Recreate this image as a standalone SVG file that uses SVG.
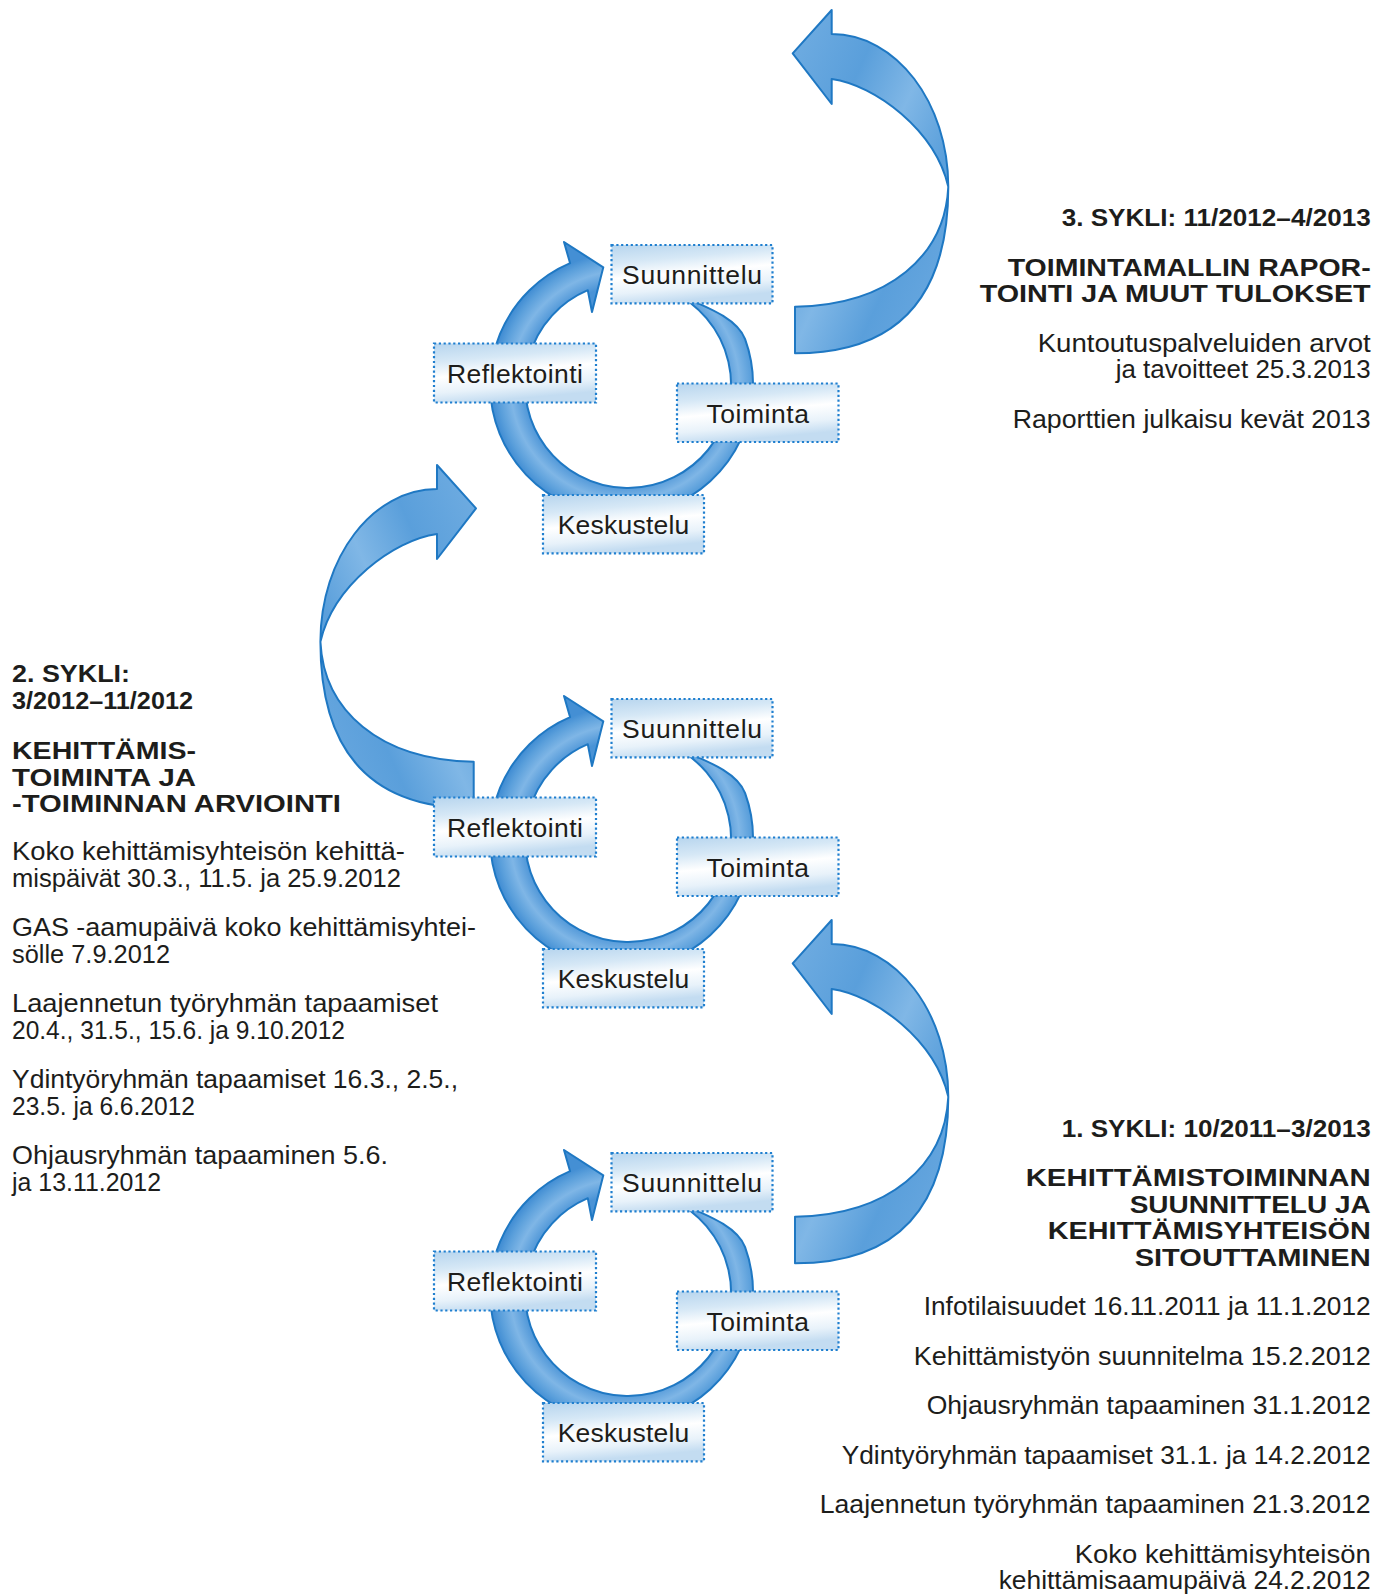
<svg xmlns="http://www.w3.org/2000/svg" width="1391" height="1595" viewBox="0 0 1391 1595">
  <style>
    text { font-family: "Liberation Sans", Arial, Helvetica, sans-serif; fill: #1d1d1b; }
    .h { font-weight: bold; font-size: 24px; }
    .t { font-size: 26.5px; }
    .r { text-anchor: end; }
    .lbl { font-size: 26.5px; text-anchor: middle; }
    .box { fill: url(#boxGrad); stroke: #1f7fcf; stroke-width: 2.2; stroke-dasharray: 2.2 2.6; }
    .ring { fill: url(#ringGrad); stroke: #1f78c3; stroke-width: 2; stroke-linejoin: round; }
    .big { fill: url(#bigGrad); stroke: #1f78c3; stroke-width: 2; stroke-linejoin: round; }
  </style>
  <defs>
    <linearGradient id="boxGrad" x1="0" y1="0" x2="0.25" y2="1">
      <stop offset="0" stop-color="#b7d5ee"/>
      <stop offset="0.3" stop-color="#d6e8f6"/>
      <stop offset="0.55" stop-color="#ffffff"/>
      <stop offset="0.8" stop-color="#e8f2fa"/>
      <stop offset="1" stop-color="#c3dcf1"/>
    </linearGradient>
    <radialGradient id="ringGrad" gradientUnits="userSpaceOnUse" cx="625" cy="385" r="133">
      <stop offset="0.74" stop-color="#4a93d6"/>
      <stop offset="0.86" stop-color="#7fb6e6"/>
      <stop offset="0.95" stop-color="#5a9fdb"/>
      <stop offset="1" stop-color="#448fd4"/>
    </radialGradient>
    <linearGradient id="bigGrad" x1="0" y1="0" x2="1" y2="1">
      <stop offset="0" stop-color="#72aee2"/>
      <stop offset="0.3" stop-color="#5a9fdb"/>
      <stop offset="0.5" stop-color="#80b7e6"/>
      <stop offset="0.7" stop-color="#5a9fdb"/>
      <stop offset="1" stop-color="#6eabe1"/>
    </linearGradient>
    <path id="bigArrow" d="M 831.7 34 C 896.1 34 948.3 102.4 948.3 186.7 C 948.3 310 885 353.3 795 353.3 L 795 306.7 C 890 305 945 255 948.3 186.7 C 935 130 875 85 831.7 79 L 831.7 104 L 792.7 53.3 L 831.7 10 Z"/>
    <path id="ringArrow" d="M 671.5 291.6 C 698.7 304.4 736.5 315.7 745.1 339.2 A 131.5 131.5 0 1 1 570.1 263.2 L 564 242 L 603.3 267.3 L 592 312 L 587.8 290.2 A 103 103 0 1 0 671.5 291.6 Z"/>
  </defs>

  <g id="connectors">
    <use href="#bigArrow" class="big"/>
    <use href="#bigArrow" class="big" transform="matrix(-1 0 0 1 1268.7 455)"/>
    <use href="#bigArrow" class="big" transform="translate(0 910)"/>
    <use href="#ringArrow" class="ring"/>
    <use href="#ringArrow" class="ring" transform="translate(0 454)"/>
    <use href="#ringArrow" class="ring" transform="translate(0 908)"/>
  </g>

  <g id="cycle3-nodes">
    <g id="c3-suunnittelu"><rect class="box" x="611.5" y="245" width="161" height="58.3"/><text class="lbl" x="692" y="284.3" textLength="140">Suunnittelu</text></g>
    <g id="c3-reflektointi"><rect class="box" x="434" y="343.5" width="162" height="59"/><text class="lbl" x="515" y="383.3" textLength="136">Reflektointi</text></g>
    <g id="c3-toiminta"><rect class="box" x="677" y="383.5" width="161.5" height="58.5"/><text class="lbl" x="757.7" y="422.7" textLength="102.6">Toiminta</text></g>
    <g id="c3-keskustelu"><rect class="box" x="543" y="495" width="161" height="58.3"/><text class="lbl" x="623.5" y="534" textLength="131.6">Keskustelu</text></g>
  </g>
  <g id="cycle2-nodes" transform="translate(0 454)">
    <g id="c2-suunnittelu"><rect class="box" x="611.5" y="245" width="161" height="58.3"/><text class="lbl" x="692" y="284.3" textLength="140">Suunnittelu</text></g>
    <g id="c2-reflektointi"><rect class="box" x="434" y="343.5" width="162" height="59"/><text class="lbl" x="515" y="383.3" textLength="136">Reflektointi</text></g>
    <g id="c2-toiminta"><rect class="box" x="677" y="383.5" width="161.5" height="58.5"/><text class="lbl" x="757.7" y="422.7" textLength="102.6">Toiminta</text></g>
    <g id="c2-keskustelu"><rect class="box" x="543" y="495" width="161" height="58.3"/><text class="lbl" x="623.5" y="534" textLength="131.6">Keskustelu</text></g>
  </g>
  <g id="cycle1-nodes" transform="translate(0 908)">
    <g id="c1-suunnittelu"><rect class="box" x="611.5" y="245" width="161" height="58.3"/><text class="lbl" x="692" y="284.3" textLength="140">Suunnittelu</text></g>
    <g id="c1-reflektointi"><rect class="box" x="434" y="343.5" width="162" height="59"/><text class="lbl" x="515" y="383.3" textLength="136">Reflektointi</text></g>
    <g id="c1-toiminta"><rect class="box" x="677" y="383.5" width="161.5" height="58.5"/><text class="lbl" x="757.7" y="422.7" textLength="102.6">Toiminta</text></g>
    <g id="c1-keskustelu"><rect class="box" x="543" y="495" width="161" height="58.3"/><text class="lbl" x="623.5" y="534" textLength="131.6">Keskustelu</text></g>
  </g>

  <g id="text-cycle3">
    <text class="h r" x="1370.7" y="226" textLength="309" lengthAdjust="spacingAndGlyphs">3. SYKLI: 11/2012–4/2013</text>
    <text class="h r" x="1370.7" y="275.5" textLength="363" lengthAdjust="spacingAndGlyphs">TOIMINTAMALLIN RAPOR-</text>
    <text class="h r" x="1370.7" y="302" textLength="391" lengthAdjust="spacingAndGlyphs">TOINTI JA MUUT TULOKSET</text>
    <text class="t r" x="1370.7" y="351.5" textLength="333" lengthAdjust="spacingAndGlyphs">Kuntoutuspalveluiden arvot</text>
    <text class="t r" x="1370.7" y="378" textLength="255" lengthAdjust="spacingAndGlyphs">ja tavoitteet 25.3.2013</text>
    <text class="t r" x="1370.7" y="427.5" textLength="358" lengthAdjust="spacingAndGlyphs">Raporttien julkaisu kevät 2013</text>
  </g>

  <g id="text-cycle2">
    <text class="h" x="12" y="682" textLength="118" lengthAdjust="spacingAndGlyphs">2. SYKLI:</text>
    <text class="h" x="12" y="708.5" textLength="181" lengthAdjust="spacingAndGlyphs">3/2012–11/2012</text>
    <text class="h" x="12" y="759" textLength="184" lengthAdjust="spacingAndGlyphs">KEHITTÄMIS-</text>
    <text class="h" x="12" y="785.5" textLength="184" lengthAdjust="spacingAndGlyphs">TOIMINTA JA</text>
    <text class="h" x="12" y="811.5" textLength="329" lengthAdjust="spacingAndGlyphs">-TOIMINNAN ARVIOINTI</text>
    <text class="t" x="12" y="860" textLength="393" lengthAdjust="spacingAndGlyphs">Koko kehittämisyhteisön kehittä-</text>
    <text class="t" x="12" y="886.5" textLength="389" lengthAdjust="spacingAndGlyphs">mispäivät 30.3., 11.5. ja 25.9.2012</text>
    <text class="t" x="12" y="936" textLength="464" lengthAdjust="spacingAndGlyphs">GAS -aamupäivä koko kehittämisyhtei-</text>
    <text class="t" x="12" y="962.5" textLength="158" lengthAdjust="spacingAndGlyphs">sölle 7.9.2012</text>
    <text class="t" x="12" y="1012" textLength="426" lengthAdjust="spacingAndGlyphs">Laajennetun työryhmän tapaamiset</text>
    <text class="t" x="12" y="1038.5" textLength="333" lengthAdjust="spacingAndGlyphs">20.4., 31.5., 15.6. ja 9.10.2012</text>
    <text class="t" x="12" y="1088" textLength="446" lengthAdjust="spacingAndGlyphs">Ydintyöryhmän tapaamiset 16.3., 2.5.,</text>
    <text class="t" x="12" y="1114.5" textLength="183" lengthAdjust="spacingAndGlyphs">23.5. ja 6.6.2012</text>
    <text class="t" x="12" y="1164" textLength="376" lengthAdjust="spacingAndGlyphs">Ohjausryhmän tapaaminen 5.6.</text>
    <text class="t" x="12" y="1190.5" textLength="149" lengthAdjust="spacingAndGlyphs">ja 13.11.2012</text>
  </g>

  <g id="text-cycle1">
    <text class="h r" x="1370.7" y="1136.5" textLength="309" lengthAdjust="spacingAndGlyphs">1. SYKLI: 10/2011–3/2013</text>
    <text class="h r" x="1370.7" y="1186" textLength="345" lengthAdjust="spacingAndGlyphs">KEHITTÄMISTOIMINNAN</text>
    <text class="h r" x="1370.7" y="1212.5" textLength="241" lengthAdjust="spacingAndGlyphs">SUUNNITTELU JA</text>
    <text class="h r" x="1370.7" y="1239" textLength="323" lengthAdjust="spacingAndGlyphs">KEHITTÄMISYHTEISÖN</text>
    <text class="h r" x="1370.7" y="1265.5" textLength="236" lengthAdjust="spacingAndGlyphs">SITOUTTAMINEN</text>
    <text class="t r" x="1370.7" y="1315" textLength="447" lengthAdjust="spacingAndGlyphs">Infotilaisuudet 16.11.2011 ja 11.1.2012</text>
    <text class="t r" x="1370.7" y="1364.5" textLength="457" lengthAdjust="spacingAndGlyphs">Kehittämistyön suunnitelma 15.2.2012</text>
    <text class="t r" x="1370.7" y="1414" textLength="444" lengthAdjust="spacingAndGlyphs">Ohjausryhmän tapaaminen 31.1.2012</text>
    <text class="t r" x="1370.7" y="1463.5" textLength="529" lengthAdjust="spacingAndGlyphs">Ydintyöryhmän tapaamiset 31.1. ja 14.2.2012</text>
    <text class="t r" x="1370.7" y="1513" textLength="551" lengthAdjust="spacingAndGlyphs">Laajennetun työryhmän tapaaminen 21.3.2012</text>
    <text class="t r" x="1370.7" y="1562.5" textLength="296" lengthAdjust="spacingAndGlyphs">Koko kehittämisyhteisön</text>
    <text class="t r" x="1370.7" y="1589" textLength="372" lengthAdjust="spacingAndGlyphs">kehittämisaamupäivä 24.2.2012</text>
  </g>
</svg>
